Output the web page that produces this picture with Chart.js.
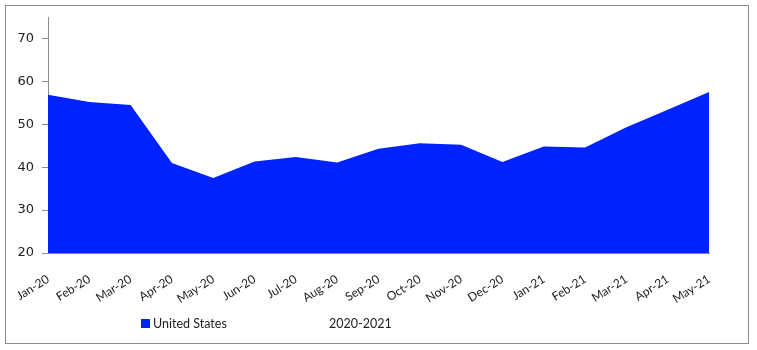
<!DOCTYPE html>
<html>
<head>
<meta charset="utf-8">
<script src="https://cdn.jsdelivr.net/npm/chart.js@4"></script>
<style>
  body { margin: 0; background: #fff; }
  #wrap { position: relative; width: 757px; height: 350px; }
  #frame {
    position: absolute; left: 5px; top: 5px; width: 742px; height: 337px;
    border: 1px solid #8c8c8c; pointer-events: none;
  }
</style>
</head>
<body>
<div id="wrap">
  <canvas id="chart" width="757" height="350"></canvas>
  <div id="frame"></div>
</div>
<script>
const months = ["Jan-20", "Feb-20", "Mar-20", "Apr-20", "May-20", "Jun-20", "Jul-20", "Aug-20",
  "Sep-20", "Oct-20", "Nov-20", "Dec-20", "Jan-21", "Feb-21", "Mar-21", "Apr-21", "May-21"];
const usValues = [56.9, 55.2, 54.5, 41.0, 37.5, 41.3, 42.4, 41.1, 44.3, 45.6, 45.2, 41.2,
  44.8, 44.6, 49.3, 53.4, 57.5];
const yTicks = [20, 30, 40, 50, 60, 70];
const seriesName = "United States";
const periodLabel = "2020-2021";

const blue = "#0022fc";
const axisGray = "#8c8c8c";

// legend drawn by hand, Excel puts it off-centre
const legendPlugin = {
  id: "excelLegend",
  afterDraw(chart) {
    const ctx = chart.ctx;
    ctx.save();
    ctx.fillStyle = blue;
    ctx.fillRect(141, 319, 9, 9);
    ctx.fillStyle = "#222";
    ctx.font = "12.5px Lato";
    ctx.textBaseline = "middle";
    ctx.fillText(seriesName, 153, 323.5);
    ctx.fillText(periodLabel, 329, 323.5);
    ctx.restore();
  }
};

const ctx = document.getElementById("chart").getContext("2d");
new Chart(ctx, {
  type: "line",
  data: {
    labels: months,
    datasets: [{
      label: seriesName,
      data: usValues,
      backgroundColor: blue,
      borderWidth: 0,
      pointRadius: 0,
      fill: "start",
      tension: 0
    }]
  },
  options: {
    responsive: false,
    animation: false,
    layout: { padding: { top: 17, right: 48, bottom: 0, left: 0 } },
    plugins: {
      legend: { display: false },
      tooltip: { enabled: false }
    },
    scales: {
      x: {
        offset: false,
        grid: { display: false },
        border: { display: true, color: axisGray, width: 1 },
        ticks: {
          color: "#222",
          font: { family: "Lato", size: 12 },
          minRotation: 32,
          maxRotation: 32,
          autoSkip: false,
          padding: 11
        },
        afterFit(scale) { scale.height = 97; }
      },
      y: {
        min: 20,
        max: 75,
        grid: { drawOnChartArea: false, drawTicks: true, tickLength: 6, color: axisGray },
        border: { display: true, color: axisGray, width: 1 },
        ticks: {
          color: "#222",
          font: { family: "DejaVu Sans", size: 13 },
          padding: 8
        },
        afterBuildTicks(scale) {
          scale.ticks = yTicks.map(v => ({ value: v }));
        },
        afterFit(scale) { scale.width = 48; }
      }
    }
  },
  plugins: [legendPlugin]
});
</script>
</body>
</html>
